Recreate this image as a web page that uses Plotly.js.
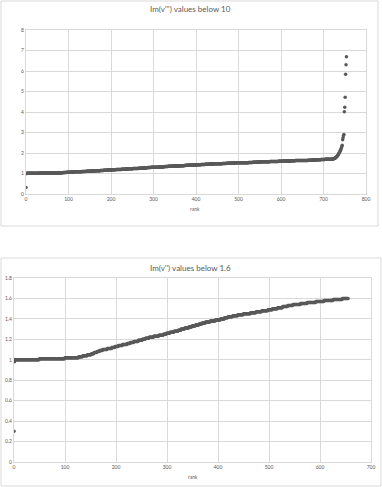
<!DOCTYPE html>
<html>
<head>
<meta charset="utf-8">
<script src="https://cdn.plot.ly/plotly-3.0.1.min.js"></script>
<style>html,body{margin:0;padding:0;background:#fff;}#chart{width:382px;height:487px;}</style>
</head>
<body>
<div id="chart"></div>
<script>
// Chart 1: Im(v''') values below 10, value at each rank (0..754)
const imV10 = [
0.32,1.00,1.00,1.01,1.01,1.01,1.01,1.01,1.01,1.01,
1.01,1.01,1.01,1.01,1.01,1.01,1.01,1.01,1.01,1.01,
1.01,1.01,1.01,1.01,1.01,1.01,1.01,1.01,1.01,1.01,
1.01,1.01,1.02,1.02,1.02,1.02,1.02,1.02,1.02,1.02,
1.02,1.02,1.02,1.02,1.02,1.02,1.02,1.02,1.02,1.02,
1.02,1.02,1.02,1.02,1.02,1.02,1.02,1.02,1.02,1.02,
1.02,1.02,1.02,1.02,1.02,1.02,1.02,1.02,1.02,1.02,
1.02,1.02,1.03,1.03,1.03,1.03,1.03,1.03,1.03,1.03,
1.03,1.03,1.04,1.04,1.04,1.04,1.04,1.04,1.05,1.05,
1.05,1.05,1.05,1.05,1.05,1.05,1.06,1.06,1.06,1.06,
1.06,1.06,1.06,1.06,1.06,1.07,1.07,1.07,1.07,1.07,
1.07,1.07,1.07,1.07,1.08,1.08,1.08,1.08,1.08,1.08,
1.08,1.08,1.08,1.09,1.09,1.09,1.09,1.09,1.09,1.09,
1.09,1.09,1.10,1.10,1.10,1.10,1.10,1.10,1.10,1.10,
1.10,1.10,1.11,1.11,1.11,1.11,1.11,1.11,1.11,1.11,
1.11,1.11,1.12,1.12,1.12,1.12,1.12,1.12,1.12,1.12,
1.12,1.12,1.13,1.13,1.13,1.13,1.13,1.13,1.14,1.14,
1.14,1.14,1.14,1.14,1.14,1.15,1.15,1.15,1.15,1.15,
1.15,1.15,1.15,1.16,1.16,1.16,1.16,1.16,1.16,1.16,
1.16,1.16,1.17,1.17,1.17,1.17,1.17,1.17,1.17,1.17,
1.17,1.17,1.17,1.18,1.18,1.18,1.18,1.18,1.18,1.18,
1.18,1.18,1.19,1.19,1.19,1.19,1.19,1.20,1.20,1.20,
1.20,1.20,1.20,1.20,1.20,1.21,1.21,1.21,1.21,1.21,
1.21,1.21,1.21,1.22,1.22,1.22,1.22,1.22,1.22,1.22,
1.22,1.22,1.23,1.23,1.23,1.23,1.23,1.23,1.23,1.23,
1.23,1.23,1.24,1.24,1.24,1.24,1.24,1.25,1.25,1.25,
1.25,1.25,1.25,1.25,1.25,1.26,1.26,1.26,1.26,1.26,
1.26,1.26,1.26,1.27,1.27,1.27,1.27,1.27,1.27,1.27,
1.27,1.27,1.28,1.28,1.28,1.28,1.28,1.29,1.29,1.29,
1.29,1.29,1.29,1.29,1.29,1.30,1.30,1.30,1.30,1.30,
1.30,1.30,1.30,1.31,1.31,1.31,1.31,1.31,1.31,1.31,
1.31,1.31,1.32,1.32,1.32,1.32,1.32,1.32,1.32,1.32,
1.32,1.32,1.33,1.33,1.33,1.33,1.33,1.34,1.34,1.34,
1.34,1.34,1.34,1.34,1.34,1.35,1.35,1.35,1.35,1.35,
1.35,1.35,1.35,1.36,1.36,1.36,1.36,1.36,1.36,1.36,
1.36,1.36,1.37,1.37,1.37,1.37,1.37,1.37,1.37,1.37,
1.37,1.37,1.38,1.38,1.38,1.38,1.38,1.38,1.38,1.38,
1.38,1.38,1.39,1.39,1.39,1.39,1.39,1.40,1.40,1.40,
1.40,1.40,1.40,1.40,1.40,1.41,1.41,1.41,1.41,1.41,
1.41,1.41,1.41,1.42,1.42,1.42,1.42,1.42,1.42,1.42,
1.42,1.42,1.43,1.43,1.43,1.43,1.43,1.43,1.43,1.43,
1.43,1.43,1.44,1.44,1.44,1.44,1.44,1.44,1.44,1.44,
1.44,1.44,1.45,1.45,1.45,1.45,1.45,1.45,1.45,1.45,
1.45,1.45,1.46,1.46,1.46,1.46,1.46,1.46,1.46,1.46,
1.46,1.46,1.47,1.47,1.47,1.47,1.47,1.47,1.47,1.47,
1.47,1.47,1.48,1.48,1.48,1.48,1.48,1.48,1.48,1.48,
1.48,1.48,1.49,1.49,1.49,1.49,1.49,1.49,1.49,1.49,
1.49,1.49,1.50,1.50,1.50,1.50,1.50,1.50,1.50,1.50,
1.50,1.50,1.51,1.51,1.51,1.51,1.51,1.51,1.51,1.51,
1.51,1.51,1.52,1.52,1.52,1.52,1.52,1.52,1.52,1.52,
1.52,1.52,1.52,1.52,1.52,1.53,1.53,1.53,1.53,1.53,
1.53,1.53,1.53,1.53,1.53,1.53,1.53,1.53,1.53,1.53,
1.53,1.53,1.53,1.53,1.54,1.54,1.54,1.54,1.54,1.54,
1.54,1.54,1.54,1.54,1.55,1.55,1.55,1.55,1.55,1.55,
1.55,1.55,1.55,1.55,1.56,1.56,1.56,1.56,1.56,1.56,
1.56,1.56,1.56,1.56,1.57,1.57,1.57,1.57,1.57,1.57,
1.57,1.57,1.57,1.57,1.57,1.57,1.57,1.57,1.57,1.57,
1.57,1.57,1.57,1.57,1.58,1.58,1.58,1.58,1.58,1.58,
1.58,1.58,1.58,1.58,1.59,1.59,1.59,1.59,1.59,1.59,
1.59,1.59,1.59,1.59,1.60,1.60,1.60,1.60,1.60,1.60,
1.60,1.60,1.60,1.60,1.61,1.61,1.61,1.61,1.61,1.61,
1.61,1.61,1.61,1.61,1.61,1.61,1.61,1.61,1.61,1.61,
1.61,1.61,1.61,1.61,1.62,1.62,1.62,1.62,1.62,1.62,
1.62,1.62,1.62,1.62,1.63,1.63,1.63,1.63,1.63,1.63,
1.63,1.63,1.63,1.63,1.63,1.63,1.63,1.63,1.63,1.63,
1.63,1.63,1.63,1.63,1.64,1.64,1.64,1.64,1.64,1.64,
1.64,1.64,1.64,1.64,1.65,1.65,1.65,1.65,1.65,1.65,
1.65,1.65,1.65,1.65,1.66,1.66,1.66,1.66,1.66,1.66,
1.66,1.66,1.66,1.66,1.67,1.67,1.67,1.67,1.67,1.67,
1.67,1.67,1.67,1.67,1.68,1.68,1.68,1.68,1.68,1.68,
1.68,1.68,1.68,1.68,1.69,1.69,1.69,1.69,1.69,1.69,
1.69,1.69,1.69,1.69,1.70,1.70,1.70,1.70,1.70,1.70,
1.70,1.70,1.71,1.71,1.72,1.73,1.74,1.75,1.76,1.78,
1.80,1.82,1.84,1.87,1.90,1.93,1.97,2.01,2.05,2.09,
2.14,2.19,2.25,2.31,2.38,
2.65,2.75,2.85,2.90,4.01,4.23,4.72,5.84,6.31,6.70
];

// Chart 2: Im(v'') values below 1.6, value at each rank (0..655)
const imV16 = [
0.30,0.98,1.00,1.00,1.00,1.00,1.00,1.00,1.00,1.00,
1.00,1.00,1.00,1.00,1.00,1.00,1.00,1.00,1.00,1.00,
1.00,1.00,1.00,1.00,1.00,1.00,1.00,1.00,1.00,1.00,
1.00,1.00,1.00,1.00,1.00,1.00,1.00,1.00,1.00,1.00,
1.00,1.00,1.00,1.00,1.00,1.00,1.00,1.00,1.00,1.00,
1.01,1.01,1.01,1.01,1.01,1.01,1.01,1.01,1.01,1.01,
1.01,1.01,1.01,1.01,1.01,1.01,1.01,1.01,1.01,1.01,
1.01,1.01,1.01,1.01,1.01,1.01,1.01,1.01,1.01,1.01,
1.01,1.01,1.01,1.01,1.01,1.01,1.01,1.01,1.01,1.01,
1.01,1.01,1.01,1.01,1.01,1.01,1.01,1.01,1.01,1.01,
1.02,1.02,1.02,1.02,1.02,1.02,1.02,1.02,1.02,1.02,
1.02,1.02,1.02,1.02,1.02,1.02,1.02,1.02,1.02,1.02,
1.02,1.02,1.02,1.02,1.02,1.02,1.02,1.03,1.03,1.03,
1.03,1.03,1.03,1.03,1.03,1.04,1.04,1.04,1.04,1.04,
1.04,1.04,1.04,1.04,1.05,1.05,1.05,1.05,1.05,1.05,
1.05,1.05,1.06,1.06,1.06,1.06,1.06,1.07,1.07,1.07,
1.07,1.07,1.07,1.08,1.08,1.08,1.08,1.08,1.09,1.09,
1.09,1.09,1.09,1.09,1.10,1.10,1.10,1.10,1.10,1.10,
1.10,1.10,1.10,1.11,1.11,1.11,1.11,1.11,1.11,1.11,
1.11,1.11,1.12,1.12,1.12,1.12,1.12,1.12,1.13,1.13,
1.13,1.13,1.13,1.13,1.13,1.14,1.14,1.14,1.14,1.14,
1.14,1.14,1.14,1.15,1.15,1.15,1.15,1.15,1.15,1.15,
1.15,1.15,1.16,1.16,1.16,1.16,1.16,1.16,1.17,1.17,
1.17,1.17,1.17,1.17,1.17,1.18,1.18,1.18,1.18,1.18,
1.18,1.18,1.18,1.18,1.19,1.19,1.19,1.19,1.19,1.19,
1.19,1.19,1.20,1.20,1.20,1.20,1.20,1.20,1.21,1.21,
1.21,1.21,1.21,1.21,1.21,1.22,1.22,1.22,1.22,1.22,
1.22,1.22,1.22,1.22,1.23,1.23,1.23,1.23,1.23,1.23,
1.23,1.23,1.23,1.23,1.24,1.24,1.24,1.24,1.24,1.24,
1.24,1.24,1.24,1.25,1.25,1.25,1.25,1.25,1.25,1.26,
1.26,1.26,1.26,1.26,1.26,1.26,1.27,1.27,1.27,1.27,
1.27,1.27,1.27,1.27,1.28,1.28,1.28,1.28,1.28,1.28,
1.28,1.28,1.29,1.29,1.29,1.29,1.29,1.29,1.30,1.30,
1.30,1.30,1.30,1.30,1.30,1.31,1.31,1.31,1.31,1.31,
1.31,1.31,1.31,1.32,1.32,1.32,1.32,1.32,1.32,1.33,
1.33,1.33,1.33,1.33,1.33,1.33,1.34,1.34,1.34,1.34,
1.34,1.34,1.34,1.35,1.35,1.35,1.35,1.35,1.35,1.36,
1.36,1.36,1.36,1.36,1.36,1.36,1.37,1.37,1.37,1.37,
1.37,1.37,1.37,1.37,1.37,1.38,1.38,1.38,1.38,1.38,
1.38,1.38,1.38,1.38,1.38,1.39,1.39,1.39,1.39,1.39,
1.39,1.39,1.39,1.39,1.39,1.40,1.40,1.40,1.40,1.40,
1.40,1.40,1.40,1.41,1.41,1.41,1.41,1.41,1.41,1.41,
1.42,1.42,1.42,1.42,1.42,1.42,1.42,1.42,1.42,1.43,
1.43,1.43,1.43,1.43,1.43,1.43,1.43,1.43,1.43,1.44,
1.44,1.44,1.44,1.44,1.44,1.44,1.44,1.44,1.44,1.44,
1.45,1.45,1.45,1.45,1.45,1.45,1.45,1.45,1.45,1.45,
1.45,1.45,1.45,1.45,1.46,1.46,1.46,1.46,1.46,1.46,
1.46,1.46,1.46,1.46,1.46,1.47,1.47,1.47,1.47,1.47,
1.47,1.47,1.47,1.47,1.47,1.47,1.48,1.48,1.48,1.48,
1.48,1.48,1.48,1.48,1.48,1.48,1.48,1.48,1.49,1.49,
1.49,1.49,1.49,1.49,1.49,1.49,1.49,1.50,1.50,1.50,
1.50,1.50,1.50,1.50,1.50,1.50,1.50,1.51,1.51,1.51,
1.51,1.51,1.51,1.51,1.51,1.51,1.51,1.52,1.52,1.52,
1.52,1.52,1.52,1.52,1.52,1.52,1.52,1.53,1.53,1.53,
1.53,1.53,1.53,1.53,1.53,1.53,1.53,1.54,1.54,1.54,
1.54,1.54,1.54,1.54,1.54,1.54,1.54,1.54,1.54,1.54,
1.54,1.54,1.55,1.55,1.55,1.55,1.55,1.55,1.55,1.55,
1.55,1.55,1.55,1.55,1.55,1.56,1.56,1.56,1.56,1.56,
1.56,1.56,1.56,1.56,1.56,1.56,1.56,1.56,1.56,1.56,
1.56,1.56,1.57,1.57,1.57,1.57,1.57,1.57,1.57,1.57,
1.57,1.57,1.57,1.57,1.57,1.57,1.57,1.57,1.58,1.58,
1.58,1.58,1.58,1.58,1.58,1.58,1.58,1.58,1.58,1.58,
1.58,1.58,1.58,1.58,1.58,1.58,1.59,1.59,1.59,1.59,
1.59,1.59,1.59,1.59,1.59,1.59,1.59,1.59,1.59,1.59,
1.59,1.59,1.59,1.59,1.60,1.60,1.60,1.60,1.60,1.60,
1.60,1.60,1.60,1.60,1.60,1.60
];

const title1 = "Im(v''') values below 10";
const title2 = "Im(v'') values below 1.6";
const xLabel = "rank";

const rank10 = imV10.map((_, i) => i);
const rank16 = imV16.map((_, i) => i);

const W = 382, H = 487;
const px = v => v / W;
const py = v => 1 - v / H;

const FONT = "Lato, 'Open Sans', sans-serif";
const TXT = "#595959";
const GRID = "#d9d9d9";
const MARK = "#595959";

const axisBase = {
  showgrid: true, gridcolor: GRID, gridwidth: 1,
  zeroline: false, showline: true, linecolor: GRID, linewidth: 1, mirror: true,
  ticks: "", tickfont: {family: FONT, size: 5, color: TXT},
  fixedrange: true
};

const traces = [
  {x: rank10, y: imV10, type: "scatter", mode: "markers", xaxis: "x", yaxis: "y",
   marker: {color: MARK, size: 3.5, line: {width: 0}}, hoverinfo: "skip"},
  {x: rank16, y: imV16, type: "scatter", mode: "markers", xaxis: "x2", yaxis: "y2",
   marker: {color: MARK, size: 3.5, line: {width: 0}}, hoverinfo: "skip"}
];

const layout = {
  width: W, height: H,
  margin: {l: 0, r: 0, t: 0, b: 0},
  paper_bgcolor: "#ffffff", plot_bgcolor: "#ffffff",
  showlegend: false,
  xaxis: Object.assign({}, axisBase, {domain: [px(26), px(366)], range: [0, 800], dtick: 100, tick0: 0, anchor: "y"}),
  yaxis: Object.assign({}, axisBase, {domain: [py(194), py(30)], range: [0, 8], dtick: 1, tick0: 0, anchor: "x"}),
  xaxis2: Object.assign({}, axisBase, {domain: [px(14), px(371)], range: [0, 700], dtick: 100, tick0: 0, anchor: "y2"}),
  yaxis2: Object.assign({}, axisBase, {domain: [py(462), py(278)], range: [0, 1.8], dtick: 0.2, tick0: 0, anchor: "x2"}),
  shapes: [
    {type: "rect", xref: "paper", yref: "paper", x0: px(1), x1: px(378), y0: py(226), y1: py(1),
     line: {color: GRID, width: 1}, fillcolor: "rgba(0,0,0,0)", layer: "below"},
    {type: "rect", xref: "paper", yref: "paper", x0: px(1), x1: px(381), y0: py(486), y1: py(258),
     line: {color: GRID, width: 1}, fillcolor: "rgba(0,0,0,0)", layer: "below"}
  ],
  annotations: [
    {text: title1, xref: "paper", yref: "paper", x: px(190), y: py(9), xanchor: "center", yanchor: "middle",
     showarrow: false, font: {family: FONT, size: 8, color: TXT}},
    {text: title2, xref: "paper", yref: "paper", x: px(190), y: py(268), xanchor: "center", yanchor: "middle",
     showarrow: false, font: {family: FONT, size: 8, color: TXT}},
    {text: xLabel, xref: "paper", yref: "paper", x: px(195), y: py(209), xanchor: "center", yanchor: "middle",
     showarrow: false, font: {family: FONT, size: 5, color: TXT}},
    {text: xLabel, xref: "paper", yref: "paper", x: px(193), y: py(477), xanchor: "center", yanchor: "middle",
     showarrow: false, font: {family: FONT, size: 5, color: TXT}}
  ]
};

Plotly.newPlot("chart", traces, layout, {staticPlot: true, displayModeBar: false});
</script>
</body>
</html>
